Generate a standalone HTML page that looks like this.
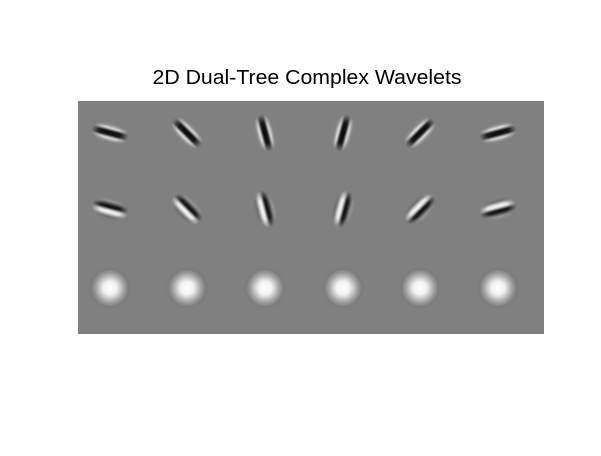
<!DOCTYPE html>
<html><head><meta charset="utf-8"><style>
body{margin:0;background:#fff;width:601px;height:451px;overflow:hidden;font-family:"Liberation Sans",sans-serif}
</style></head><body>
<svg width="601" height="451">
<defs>
<linearGradient id="ph0" x1="0" y1="0" x2="0" y2="1">
<stop offset="0" stop-color="#808080"/><stop offset="0.15" stop-color="#8a8a8a"/><stop offset="0.3" stop-color="#e0e0e0"/><stop offset="0.43" stop-color="#0a0a0a"/><stop offset="0.57" stop-color="#0a0a0a"/><stop offset="0.7" stop-color="#e8e8e8"/><stop offset="0.85" stop-color="#8a8a8a"/><stop offset="1" stop-color="#808080"/>
</linearGradient>
<linearGradient id="ph1" x1="0" y1="0" x2="0" y2="1">
<stop offset="0" stop-color="#808080"/><stop offset="0.18" stop-color="#a0a0a0"/><stop offset="0.36" stop-color="#111"/><stop offset="0.44" stop-color="#111"/><stop offset="0.5" stop-color="#808080"/><stop offset="0.58" stop-color="#f4f4f4"/><stop offset="0.66" stop-color="#f4f4f4"/><stop offset="0.82" stop-color="#666"/><stop offset="1" stop-color="#808080"/>
</linearGradient>
<radialGradient id="fade"><stop offset="0" stop-color="#fff"/><stop offset="0.55" stop-color="#fff" stop-opacity="0.9"/><stop offset="1" stop-color="#fff" stop-opacity="0"/></radialGradient>
<mask id="m" maskContentUnits="objectBoundingBox"><rect x="0" y="0" width="1" height="1" fill="url(#fade)"/></mask>
<radialGradient id="blob"><stop offset="0" stop-color="#fff"/><stop offset="0.3" stop-color="#f2f2f2"/><stop offset="0.65" stop-color="#a0a0a0"/><stop offset="0.85" stop-color="#7c7c7c"/><stop offset="1" stop-color="#808080"/></radialGradient>
</defs>
<text x="307" y="84" text-anchor="middle" font-size="20" textLength="309" lengthAdjust="spacingAndGlyphs">2D Dual-Tree Complex Wavelets</text>
<rect x="78" y="101" width="466" height="233" fill="#808080"/>
<g id="marks"></g>
</svg>
<script>
const colCenters=[110,187,265,343,420,498];
const rowCenters=[133,209,288];
const angles=[15,45,75,105,135,165];
const phases=["ph0","ph1"];
const g=document.getElementById('marks');
const NS="http://www.w3.org/2000/svg";
for(let c=0;c<angles.length;c++){
  for(let r=0;r<phases.length;r++){
    const el=document.createElementNS(NS,'rect');
    el.setAttribute('x',-19);el.setAttribute('y',-12);
    el.setAttribute('width',38);el.setAttribute('height',24);
    el.setAttribute('fill','url(#'+phases[r]+')');
    el.setAttribute('mask','url(#m)');
    el.setAttribute('transform','translate('+colCenters[c]+','+rowCenters[r]+') rotate('+angles[c]+')');
    
    
    g.appendChild(el);
  }
  const b=document.createElementNS(NS,'circle');
  b.setAttribute('cx',colCenters[c]);b.setAttribute('cy',rowCenters[2]);b.setAttribute('r',22);
  b.setAttribute('fill','url(#blob)');
  
  
  g.appendChild(b);
}
</script>
</body></html>
